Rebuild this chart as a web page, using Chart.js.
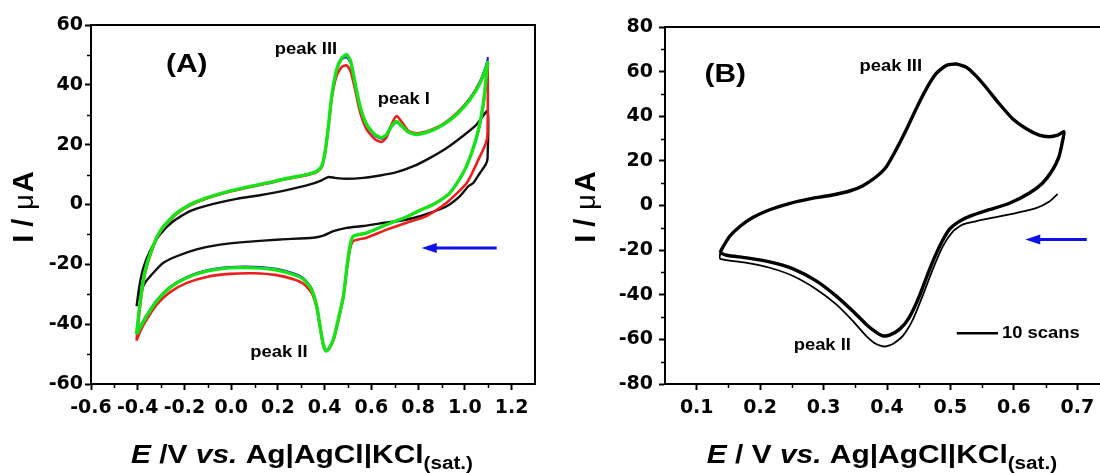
<!DOCTYPE html>
<html>
<head>
<meta charset="utf-8">
<script src="https://cdn.jsdelivr.net/npm/chart.js@4.4.0/dist/chart.umd.min.js"></script>
<style>
  html, body { margin: 0; padding: 0; background: #fff; overflow: hidden; }
  #wrap { position: relative; width: 1100px; height: 473px; overflow: hidden; }
  #chartA { position: absolute; left: 0; top: 0; }
  #chartB { position: absolute; left: 550px; top: 0; }
</style>
</head>
<body>
<div id="wrap">
  <canvas id="chartA" width="550" height="473"></canvas>
  <canvas id="chartB" width="600" height="473"></canvas>
</div>
<script>
// ---- panel A : E / V and I / uA ----
const greenE = [-0.405, -0.39, -0.37, -0.34, -0.30, -0.24, -0.176, -0.105, -0.02, 0.066, 0.152, 0.237, 0.323, 0.366, 0.387, 0.401, 0.416, 0.43, 0.451, 0.473, 0.494, 0.511, 0.53, 0.551, 0.58, 0.615, 0.644, 0.665, 0.687, 0.708, 0.73, 0.758, 0.794, 0.851, 0.908, 0.965, 1.022, 1.065, 1.093, 1.097,
  1.079, 1.058, 1.029, 0.993, 0.936, 0.865, 0.808, 0.751, 0.665, 0.58, 0.523, 0.508, 0.494, 0.48, 0.458, 0.437, 0.416, 0.406, 0.394, 0.38, 0.366, 0.344, 0.309, 0.266, 0.195, 0.095, -0.005, -0.105, -0.19, -0.262, -0.319, -0.362, -0.39, -0.405];
const greenI = [-43.4, -32.8, -22.8, -15, -8.4, -3.3, 0, 2.2, 4.2, 5.8, 7.2, 8.7, 10, 11.1, 12.8, 17.3, 26.2, 36.2, 45.1, 49, 50.1, 47.9, 40.6, 32.9, 26.7, 23.4, 22.3, 23.4, 26.4, 27.8, 26.2, 24.2, 23.4, 24.5, 26.7, 30.1, 35.1, 40.6, 46.2, 47.5,
  33.9, 25, 17.3, 10.6, 3.9, 0, -1.9, -4.1, -6.7, -9.5, -10.6, -13.9, -21.7, -30.6, -38.4, -45.1, -48.4, -49, -46.8, -40.6, -34, -28.4, -25, -23.4, -21.9, -21.2, -21.2, -22.3, -24.5, -27.8, -32.3, -37.3, -41.2, -43.4];

const blueE = [-0.405, -0.39, -0.37, -0.34, -0.30, -0.24, -0.176, -0.105, -0.02, 0.066, 0.152, 0.237, 0.323, 0.366, 0.387, 0.401, 0.416, 0.43, 0.451, 0.473, 0.494, 0.511, 0.53, 0.551, 0.58, 0.615, 0.644, 0.665, 0.687, 0.708, 0.73, 0.758, 0.794, 0.851, 0.908, 0.965, 1.022, 1.065, 1.093, 1.098,
  1.082, 1.061, 1.031, 0.995, 0.938, 0.866, 0.808, 0.751, 0.665, 0.58, 0.523, 0.508, 0.494, 0.48, 0.458, 0.437, 0.416, 0.406, 0.394, 0.38, 0.366, 0.344, 0.309, 0.266, 0.195, 0.095, -0.005, -0.105, -0.19, -0.262, -0.319, -0.362, -0.39, -0.405];
const blueI = [-42.6, -32.3, -22.5, -14.8, -8.3, -3.2, 0, 2.2, 4.2, 5.8, 7.2, 8.7, 10, 11, 12.6, 17, 26, 36, 44.8, 48.5, 49.2, 47.2, 40.2, 32.6, 26.4, 23, 22, 23.2, 26, 27.4, 26, 24.1, 23.4, 24.5, 26.8, 30.3, 35.5, 41.2, 47, 49,
  34.2, 25.3, 17.5, 10.8, 4, 0.1, -1.9, -4.1, -6.8, -9.6, -10.7, -14, -21.9, -30.8, -38.6, -45.2, -48.2, -48.6, -46.5, -40.4, -33.8, -28, -24.6, -23, -21.5, -20.8, -20.9, -22, -24.2, -27.5, -32, -36.9, -40.7, -42.6];

const redE = [-0.405, -0.39, -0.37, -0.34, -0.30, -0.24, -0.176, -0.105, -0.02, 0.066, 0.152, 0.237, 0.323, 0.366, 0.387, 0.401, 0.416, 0.43, 0.451, 0.473, 0.494, 0.511, 0.53, 0.551, 0.58, 0.615, 0.644, 0.665, 0.687, 0.708, 0.73, 0.758, 0.794, 0.851, 0.908, 0.965, 1.022, 1.065, 1.093, 1.097,
  1.097, 1.09, 1.058, 1.008, 0.922, 0.836, 0.751, 0.665, 0.58, 0.523, 0.508, 0.494, 0.48, 0.458, 0.437, 0.416, 0.406, 0.394, 0.38, 0.366, 0.344, 0.309, 0.266, 0.195, 0.095, -0.005, -0.105, -0.19, -0.262, -0.319, -0.362, -0.39, -0.405];
const redI = [-45.5, -34, -23.5, -15.5, -8.8, -3.6, -0.3, 2, 4, 5.6, 7, 8.5, 9.8, 10.8, 12.5, 17, 25.8, 35.5, 43, 46, 46.5, 44.5, 38.5, 31, 25, 21.8, 20.9, 22.5, 27, 29.6, 27.6, 24.6, 23.8, 24.8, 27, 30.5, 35.5, 41, 46.5, 47.8,
  24, 20.5, 15, 7.2, 0.6, -3.9, -6.1, -8.4, -11.1, -12.2, -15, -22, -31, -39, -45.5, -48.5, -48.8, -47, -41, -34.5, -29.5, -26.5, -25, -23.6, -23, -23.2, -24.2, -26.2, -29.3, -33.5, -38.5, -42.5, -45.5];

const blackE = [-0.405, -0.393, -0.376, -0.348, -0.305, -0.248, -0.176, -0.076, 0.023, 0.123, 0.237, 0.337, 0.387, 0.416, 0.444, 0.494, 0.565, 0.637, 0.708, 0.78, 0.851, 0.922, 0.993, 1.05, 1.097,
  1.097, 1.09, 1.065, 1.036, 1.015, 0.979, 0.922, 0.851, 0.78, 0.708, 0.637, 0.565, 0.494, 0.437, 0.394, 0.351, 0.209, 0.066, -0.048, -0.148, -0.233, -0.29, -0.333, -0.369, -0.4, -0.405];
const blackI = [-34, -27.3, -21.2, -15.6, -10, -5.6, -2.2, 0.2, 1.9, 3.1, 4.8, 6.7, 8.1, 9.2, 8.9, 8.6, 8.9, 9.7, 10.8, 12.8, 15.6, 18.9, 23, 26.7, 31.2,
  15.5, 13.5, 10.6, 7.2, 6.1, 2.8, -0.6, -2.8, -4.5, -5.6, -6.3, -7.2, -7.8, -8.9, -10.4, -11.1, -11.7, -12.5, -13.4, -15, -17.3, -19.5, -22.8, -26.2, -31.8, -34];

const xTicksA = [-0.6, -0.4, -0.2, 0.0, 0.2, 0.4, 0.6, 0.8, 1.0, 1.2];
const xMinorA = [-0.5, -0.3, -0.1, 0.1, 0.3, 0.5, 0.7, 0.9, 1.1];
const yTicksA = [-60, -40, -20, 0, 20, 40, 60];
const yMinorA = [-50, -30, -10, 10, 30, 50];

// ---- panel B : 10 scans (overlapping) and the first scan ----
const scansE = [0.137, 0.139, 0.152, 0.168, 0.189, 0.215, 0.247, 0.278, 0.31, 0.341, 0.362, 0.383, 0.399, 0.414, 0.43, 0.446, 0.462, 0.477, 0.493, 0.509, 0.525, 0.54, 0.556, 0.577, 0.598, 0.619, 0.64, 0.656, 0.669, 0.679,
  0.676, 0.671, 0.661, 0.645, 0.624, 0.593, 0.561, 0.53, 0.514, 0.498, 0.483, 0.467, 0.451, 0.435, 0.42, 0.404, 0.393, 0.383, 0.367, 0.346, 0.32, 0.289, 0.252, 0.215, 0.179, 0.147, 0.137];
const scansI = [-21.2, -19.8, -13.8, -9.4, -5.3, -1.9, 1, 3, 4.5, 6.5, 8.9, 12.9, 17.4, 24.8, 33.7, 43.4, 52.3, 59, 62.7, 63.4, 62, 58.2, 53, 45.6, 38.9, 34.5, 31.5, 30.8, 31.5, 33,
  27.8, 21.8, 15.9, 10, 5.5, 1, -1.9, -4.9, -7.1, -10.8, -18.3, -28.7, -40.6, -50.2, -55.4, -58.1, -58.4, -56.9, -53.2, -47.3, -40.6, -33.9, -28.4, -25.3, -23.5, -22.3, -21.2];
const firstE = [0.669, 0.656, 0.635, 0.603, 0.572, 0.54, 0.519, 0.504, 0.488, 0.472, 0.456, 0.441, 0.425, 0.409, 0.396, 0.383, 0.367, 0.346, 0.32, 0.289, 0.252, 0.215, 0.179, 0.137, 0.137];
const firstI = [5.2, 1.8, -1.2, -3.4, -5.2, -7.1, -8.6, -11.6, -18.3, -28.7, -40.6, -51, -58.4, -62.1, -63.2, -62.1, -58.4, -51.7, -44.3, -37.6, -31.6, -27.9, -25.7, -23.9, -21.2];

const xTicksB = [0.1, 0.2, 0.3, 0.4, 0.5, 0.6, 0.7];
const xMinorB = [0.15, 0.25, 0.35, 0.45, 0.55, 0.65];
const yTicksB = [-80, -60, -40, -20, 0, 20, 40, 60, 80];
const yMinorB = [-70, -50, -30, -10, 10, 30, 50, 70];

const FONT = "'Liberation Sans', Arial, sans-serif";
const TICKFONT = "'DejaVu Sans', sans-serif";
const STRETCH = 1.15;   // the lettering of the figure is a bit wide

const pts = (E, I) => E.map((e, i) => ({x: e, y: I[i]}));

const line = (E, I, color, w) => ({
  data: pts(E, I), showLine: true, borderColor: color, borderWidth: w,
  pointRadius: 0, fill: false, tension: 0.2
});

// draws runs of text with different fonts one after the other, centred on 0
function drawRuns(ctx, runs) {
  let total = 0;
  runs.forEach(r => { ctx.font = r.f; r.w = ctx.measureText(r.t).width + (r.gap || 0); total += r.w; });
  let xx = -total / 2;
  ctx.textAlign = 'left';
  ctx.textBaseline = 'alphabetic';
  runs.forEach(r => { ctx.font = r.f; ctx.fillText(r.t, xx, r.dy || 0); xx += r.w; });
}

const decor = {
  id: 'decor',
  afterDraw(chart, args, o) {
    const {ctx, chartArea: a, scales: {x, y}} = chart;
    ctx.save();
    ctx.strokeStyle = '#000';
    ctx.lineWidth = 2;
    ctx.beginPath();
    ctx.moveTo(a.left - 1, a.top);
    ctx.lineTo(a.right, a.top);
    ctx.lineTo(a.right, a.bottom + 1);
    ctx.stroke();

    // minor ticks
    ctx.lineWidth = 1.5;
    ctx.beginPath();
    o.xMinor.forEach(v => {
      const px = Math.round(x.getPixelForValue(v)) + 0.5;
      ctx.moveTo(px, a.bottom); ctx.lineTo(px, a.bottom + 4);
    });
    o.yMinor.forEach(v => {
      const py = Math.round(y.getPixelForValue(v)) + 0.5;
      ctx.moveTo(a.left, py); ctx.lineTo(a.left - 4, py);
    });
    ctx.stroke();

    // blue scan direction arrow
    const ax1 = x.getPixelForValue(o.arrow[0]), ax2 = x.getPixelForValue(o.arrow[1]);
    const ay = y.getPixelForValue(o.arrow[2]);
    ctx.strokeStyle = '#1010e8';
    ctx.fillStyle = '#1010e8';
    ctx.lineWidth = 3;
    ctx.beginPath();
    ctx.moveTo(ax1, ay); ctx.lineTo(ax2 + 10, ay);
    ctx.stroke();
    ctx.beginPath();
    ctx.moveTo(ax2, ay); ctx.lineTo(ax2 + 15, ay - 5); ctx.lineTo(ax2 + 15, ay + 5);
    ctx.closePath();
    ctx.fill();

    // labels inside the plot
    ctx.fillStyle = '#000';
    ctx.textBaseline = 'middle';
    o.notes.forEach(n => {
      ctx.save();
      ctx.translate(x.getPixelForValue(n.x), y.getPixelForValue(n.y));
      ctx.scale(STRETCH, 1);
      ctx.font = n.f;
      ctx.textAlign = 'center';
      ctx.fillText(n.t, 0, 0);
      ctx.restore();
    });

    if (o.legend) {
      const l = o.legend;
      const ly = y.getPixelForValue(l.y);
      ctx.strokeStyle = '#000';
      ctx.lineWidth = 2.5;
      ctx.beginPath();
      ctx.moveTo(x.getPixelForValue(l.x1), ly);
      ctx.lineTo(x.getPixelForValue(l.x2), ly);
      ctx.stroke();
      ctx.save();
      ctx.translate(x.getPixelForValue(l.x2) + 4, ly);
      ctx.scale(STRETCH, 1);
      ctx.font = 'bold 16px ' + FONT;
      ctx.textAlign = 'left';
      ctx.textBaseline = 'middle';
      ctx.fillText(l.t, 0, 0);
      ctx.restore();
    }

    // axis titles
    ctx.save();
    ctx.translate(o.yTitle[0] + 10, o.yTitle[1]);
    ctx.rotate(-Math.PI / 2);
    drawRuns(ctx, [
      {t: 'I', f: 'bold 29px ' + FONT, gap: 8},
      {t: '/', f: 'bold 29px ' + FONT, gap: 9},
      {t: '\u03bc', f: '27px ' + FONT, gap: 2},
      {t: 'A', f: 'bold 29px ' + FONT}
    ]);
    ctx.restore();

    ctx.save();
    ctx.translate(o.xTitle[0], o.xTitle[1]);
    ctx.scale(STRETCH, 1);
    drawRuns(ctx, [
      {t: 'E', f: 'italic bold 26px ' + FONT},
      {t: o.xTitleMid, f: 'bold 26px ' + FONT},
      {t: 'vs.', f: 'italic bold 26px ' + FONT},
      {t: ' Ag|AgCl|KCl', f: 'bold 26px ' + FONT},
      {t: '(sat.)', f: 'bold 18px ' + FONT, dy: 6}
    ]);
    ctx.restore();
    ctx.restore();
  }
};

function axes(xmin, xmax, xt, ymin, ymax, yt, left, bottomH, yPad) {
  const tickFont = {family: TICKFONT, size: 19, weight: 'bold'};
  const grid = {drawOnChartArea: false, drawTicks: true, tickLength: 6, tickWidth: 2, tickColor: '#000'};
  return {
    x: {
      type: 'linear', min: xmin, max: xmax,
      afterBuildTicks: s => { s.ticks = xt.map(v => ({value: v})); },
      afterFit: s => { s.height = bottomH; },
      ticks: {callback: v => v.toFixed(1), font: tickFont, color: '#000', padding: 7, maxRotation: 0, autoSkip: false},
      grid: grid, border: {color: '#000', width: 2}
    },
    y: {
      type: 'linear', min: ymin, max: ymax,
      afterBuildTicks: s => { s.ticks = yt.map(v => ({value: v})); },
      afterFit: s => { s.width = left; },
      ticks: {callback: v => String(v), font: tickFont, color: '#000', padding: yPad, autoSkip: false},
      grid: grid, border: {color: '#000', width: 2}
    }
  };
}

const common = {
  responsive: false, animation: false, events: [],
  plugins: {legend: {display: false}, tooltip: {enabled: false}}
};

new Chart(document.getElementById('chartA'), {
  type: 'scatter',
  data: {datasets: [
    line(greenE, greenI, '#17e317', 3.4),
    line(blueE, blueI, '#1a1ae6', 2),
    line(redE, redI, '#ee1c1c', 2.6),
    line(blackE, blackI, '#101010', 2.4)
  ]},
  options: Object.assign({}, common, {
    layout: {padding: {left: 0, top: 25, right: 15, bottom: 0}},
    scales: axes(-0.6, 1.3, xTicksA, -60, 60, yTicksA, 91, 89, 2),
    plugins: Object.assign({}, common.plugins, {decor: {
      xMinor: xMinorA, yMinor: yMinorA,
      arrow: [1.136, 0.815, -14.5],
      notes: [
        {t: '(A)', x: -0.19, y: 46.8, f: 'bold 26px ' + FONT},
        {t: 'peak III', x: 0.32, y: 51.8, f: 'bold 16px ' + FONT},
        {t: 'peak I', x: 0.739, y: 35.1, f: 'bold 16px ' + FONT},
        {t: 'peak II', x: 0.204, y: -49.5, f: 'bold 16px ' + FONT}
      ],
      yTitle: [23, 207], xTitle: [302, 463], xTitleMid: ' /V '
    }})
  }),
  plugins: [decor]
});

new Chart(document.getElementById('chartB'), {
  type: 'scatter',
  data: {datasets: [
    line(scansE, scansI, '#000', 3.4),
    line(firstE, firstI, '#000', 1.8)
  ]},
  options: Object.assign({}, common, {
    layout: {padding: {left: 0, top: 27, right: 41, bottom: 0}},
    scales: axes(0.05, 0.75, xTicksB, -80, 80, yTicksB, 115, 89, 6),
    plugins: Object.assign({}, common.plugins, {decor: {
      xMinor: xMinorB, yMinor: yMinorB,
      arrow: [0.715, 0.618, -15.2],
      notes: [
        {t: '(B)', x: 0.145, y: 58.5, f: 'bold 26px ' + FONT},
        {t: 'peak III', x: 0.406, y: 62.1, f: 'bold 16px ' + FONT},
        {t: 'peak II', x: 0.298, y: -62.6, f: 'bold 16px ' + FONT}
      ],
      legend: {x1: 0.51, x2: 0.575, y: -57.2, t: '10 scans'},
      yTitle: [35, 207], xTitle: [332, 463], xTitleMid: ' / V '
    }})
  }),
  plugins: [decor]
});
</script>
</body>
</html>
